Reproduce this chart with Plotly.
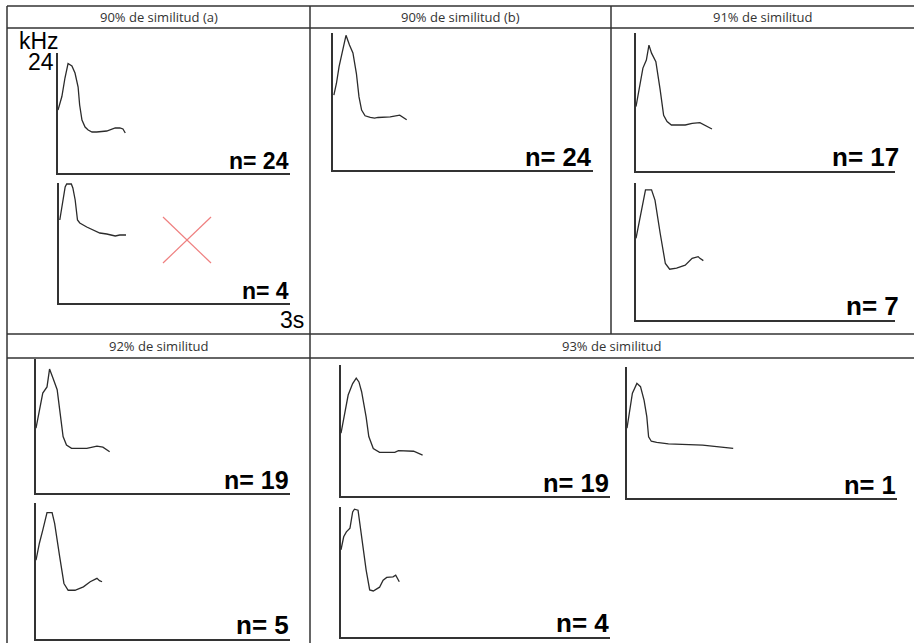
import plotly.graph_objects as go

# Canvas size (px)
W, H = 914, 643

# Column / block headers
headers_row1 = ["90% de similitud (a)", "90% de similitud (b)", "91% de similitud"]
headers_row2 = ["92% de similitud", "93% de similitud"]

# Sample counts per mini chart
n_values = [24, 4, 24, 17, 7, 19, 5, 19, 1, 4]

# Curves: time (s) and frequency (kHz)
t_90a_1 = [0.0, 0.05, 0.09, 0.13, 0.18, 0.22, 0.26, 0.28, 0.31, 0.35, 0.39, 0.44, 0.50, 0.63, 0.74, 0.80, 0.84, 0.87]
f_90a_1 = [12.6, 15.3, 19.0, 21.9, 21.4, 20.0, 17.2, 13.6, 10.6, 9.2, 8.6, 8.2, 8.2, 8.4, 9.0, 9.0, 8.8, 8.0]

t_90a_2 = [0.01, 0.05, 0.08, 0.10, 0.16, 0.18, 0.21, 0.24, 0.27, 0.36, 0.45, 0.53, 0.62, 0.73, 0.79, 0.87]
f_90a_2 = [16.6, 20.6, 23.2, 23.8, 23.8, 23.0, 20.6, 16.6, 16.0, 15.2, 14.6, 14.0, 13.8, 13.4, 13.6, 13.6]

t_90b = [0.01, 0.04, 0.07, 0.12, 0.15, 0.19, 0.23, 0.27, 0.30, 0.33, 0.37, 0.43, 0.48, 0.52, 0.66, 0.77, 0.81, 0.85]
f_90b = [13.1, 15.2, 18.1, 21.6, 23.6, 21.9, 20.5, 16.9, 12.8, 10.5, 9.5, 9.2, 9.1, 9.2, 9.3, 9.6, 9.2, 8.8]

t_91_1 = [0.0, 0.05, 0.08, 0.12, 0.15, 0.18, 0.23, 0.28, 0.32, 0.36, 0.41, 0.57, 0.65, 0.74, 0.82, 0.88]
f_91_1 = [11.2, 15.3, 17.9, 19.3, 21.9, 20.5, 19.0, 14.1, 9.7, 8.6, 8.0, 8.0, 8.3, 8.4, 7.8, 7.3]

t_91_2 = [0.0, 0.05, 0.08, 0.11, 0.18, 0.22, 0.28, 0.34, 0.39, 0.47, 0.57, 0.65, 0.72, 0.74, 0.78]
f_91_2 = [14.3, 18.1, 20.4, 22.8, 22.8, 21.0, 15.2, 9.9, 8.9, 9.1, 9.6, 10.8, 11.1, 10.8, 10.4]

t_92_1 = [0.0, 0.04, 0.08, 0.13, 0.16, 0.20, 0.25, 0.28, 0.32, 0.36, 0.42, 0.60, 0.72, 0.79, 0.87]
f_92_1 = [11.6, 14.9, 17.9, 19.0, 22.2, 20.6, 18.5, 14.9, 10.1, 8.6, 8.0, 8.0, 8.4, 8.2, 7.4]

t_92_2 = [0.0, 0.04, 0.08, 0.13, 0.19, 0.22, 0.28, 0.33, 0.38, 0.46, 0.56, 0.64, 0.72, 0.75, 0.78]
f_92_2 = [13.9, 16.9, 19.2, 22.3, 22.3, 20.4, 14.5, 9.8, 8.6, 8.6, 9.2, 10.1, 10.7, 10.3, 10.1]

t_93_1 = [0.0, 0.04, 0.08, 0.13, 0.17, 0.20, 0.23, 0.28, 0.31, 0.36, 0.43, 0.60, 0.64, 0.81, 0.88, 0.91]
f_93_1 = [11.5, 15.1, 18.5, 20.6, 21.6, 20.9, 19.1, 14.5, 10.9, 8.7, 8.0, 8.0, 8.3, 8.2, 7.8, 7.5]

t_93_2 = [0.0, 0.03, 0.06, 0.11, 0.15, 0.19, 0.22, 0.24, 0.27, 0.33, 0.46, 0.84, 0.95, 1.08, 1.18]
f_93_2 = [12.8, 16.1, 19.2, 21.0, 20.4, 17.9, 14.9, 11.2, 10.4, 10.2, 9.9, 9.7, 9.5, 9.3, 9.1]

t_93_3 = [0.0, 0.03, 0.06, 0.10, 0.13, 0.15, 0.19, 0.23, 0.28, 0.32, 0.36, 0.43, 0.47, 0.51, 0.58, 0.61, 0.65]
f_93_3 = [16.1, 18.5, 19.4, 20.1, 23.1, 23.6, 23.4, 18.5, 12.4, 8.7, 8.5, 9.2, 10.5, 11.0, 11.1, 11.4, 10.2]

curves = [
    (t_90a_1, f_90a_1), (t_90a_2, f_90a_2), (t_90b, f_90b),
    (t_91_1, f_91_1), (t_91_2, f_91_2), (t_92_1, f_92_1),
    (t_92_2, f_92_2), (t_93_1, f_93_1), (t_93_2, f_93_2), (t_93_3, f_93_3),
]

# Layout: pixel boxes of the mini charts (left, top, right, bottom)
boxes = [
    (58, 53, 290, 173), (59, 183, 290, 303), (333, 33, 593, 170),
    (636, 33, 895, 171), (636, 183, 895, 320), (36, 359, 290, 493),
    (36, 503, 290, 639), (341, 365, 610, 496), (627, 367, 897, 498),
    (341, 507, 610, 637),
]
label_right = [291, 291, 594, 901, 901, 291, 291, 611, 898, 611]
label_size = [23, 23, 25.5, 26, 26, 25, 26, 25.5, 25.5, 26]


def px(x):
    return x / W


def py(y):
    return 1 - y / H


fig = go.Figure()
layout_axes = {}
annotations = []

for i, ((t, f), box) in enumerate(zip(curves, boxes)):
    k = "" if i == 0 else str(i + 1)
    left, top, right, bottom = box
    fig.add_trace(go.Scatter(
        x=t, y=f, mode="lines",
        line=dict(color="#2b2b2b", width=1.3),
        xaxis="x" + k, yaxis="y" + k,
        showlegend=False, hoverinfo="skip",
    ))
    axis_style = dict(showline=True, linecolor="#333", linewidth=1.5, showgrid=False,
                      zeroline=False, showticklabels=False, ticks="", fixedrange=True)
    layout_axes["xaxis" + k] = dict(axis_style, domain=[px(left), px(right)], range=[0, 3],
                                    anchor="y" + k)
    layout_axes["yaxis" + k] = dict(axis_style, domain=[py(bottom), py(top)], range=[0, 24],
                                    anchor="x" + k)
    annotations.append(dict(
        text=f"<b>n= {n_values[i]}</b>", x=px(label_right[i]), y=py(bottom + 3),
        xref="paper", yref="paper", xanchor="right", yanchor="bottom", showarrow=False,
        font=dict(family="Liberation Sans, Arial", size=label_size[i], color="#000"),
    ))

# Headers of the table
hdr_font = dict(family="Open Sans, Noto Sans", size=13, color="#333")
for text, cx in zip(headers_row1, [158.5, 460.5, 762.5]):
    annotations.append(dict(text=text, x=px(cx), y=py(17), xref="paper", yref="paper",
                            xanchor="center", yanchor="middle", showarrow=False, font=hdr_font))
for text, cx in zip(headers_row2, [158.5, 612]):
    annotations.append(dict(text=text, x=px(cx), y=py(346), xref="paper", yref="paper",
                            xanchor="center", yanchor="middle", showarrow=False, font=hdr_font))

# Axis units on the first chart
unit_font = dict(family="Liberation Sans, Arial", size=23, color="#000")
annotations.append(dict(text="kHz", x=px(17), y=py(41), xref="paper", yref="paper",
                        xanchor="left", yanchor="middle", showarrow=False, font=unit_font))
annotations.append(dict(text="24", x=px(56), y=py(62), xref="paper", yref="paper",
                        xanchor="right", yanchor="middle", showarrow=False, font=unit_font))
annotations.append(dict(text="3s", x=px(306), y=py(320), xref="paper", yref="paper",
                        xanchor="right", yanchor="middle", showarrow=False, font=unit_font))

# Table grid
shapes = []
grid = dict(type="line", xref="paper", yref="paper", line=dict(color="#333", width=1.5))
for y in [6, 28, 334, 358]:
    shapes.append(dict(grid, x0=px(7), x1=px(W), y0=py(y), y1=py(y)))
shapes.append(dict(grid, x0=px(7), x1=px(7), y0=py(6), y1=py(H)))
shapes.append(dict(grid, x0=px(310), x1=px(310), y0=py(6), y1=py(H)))
shapes.append(dict(grid, x0=px(611), x1=px(611), y0=py(6), y1=py(334)))

# Red cross over the discarded group
cross = dict(type="line", xref="paper", yref="paper", line=dict(color="#ef7f7f", width=1.2))
shapes.append(dict(cross, x0=px(163), y0=py(217), x1=px(211), y1=py(263)))
shapes.append(dict(cross, x0=px(163), y0=py(263), x1=px(211), y1=py(217)))

fig.update_layout(
    width=W, height=H, autosize=False,
    margin=dict(l=0, r=0, t=0, b=0),
    paper_bgcolor="white", plot_bgcolor="rgba(0,0,0,0)",
    annotations=annotations, shapes=shapes,
    **layout_axes,
)

fig.write_html("out.html", config={"displayModeBar": False},
               post_script="document.body.style.margin='0';document.body.style.overflow='hidden';")
